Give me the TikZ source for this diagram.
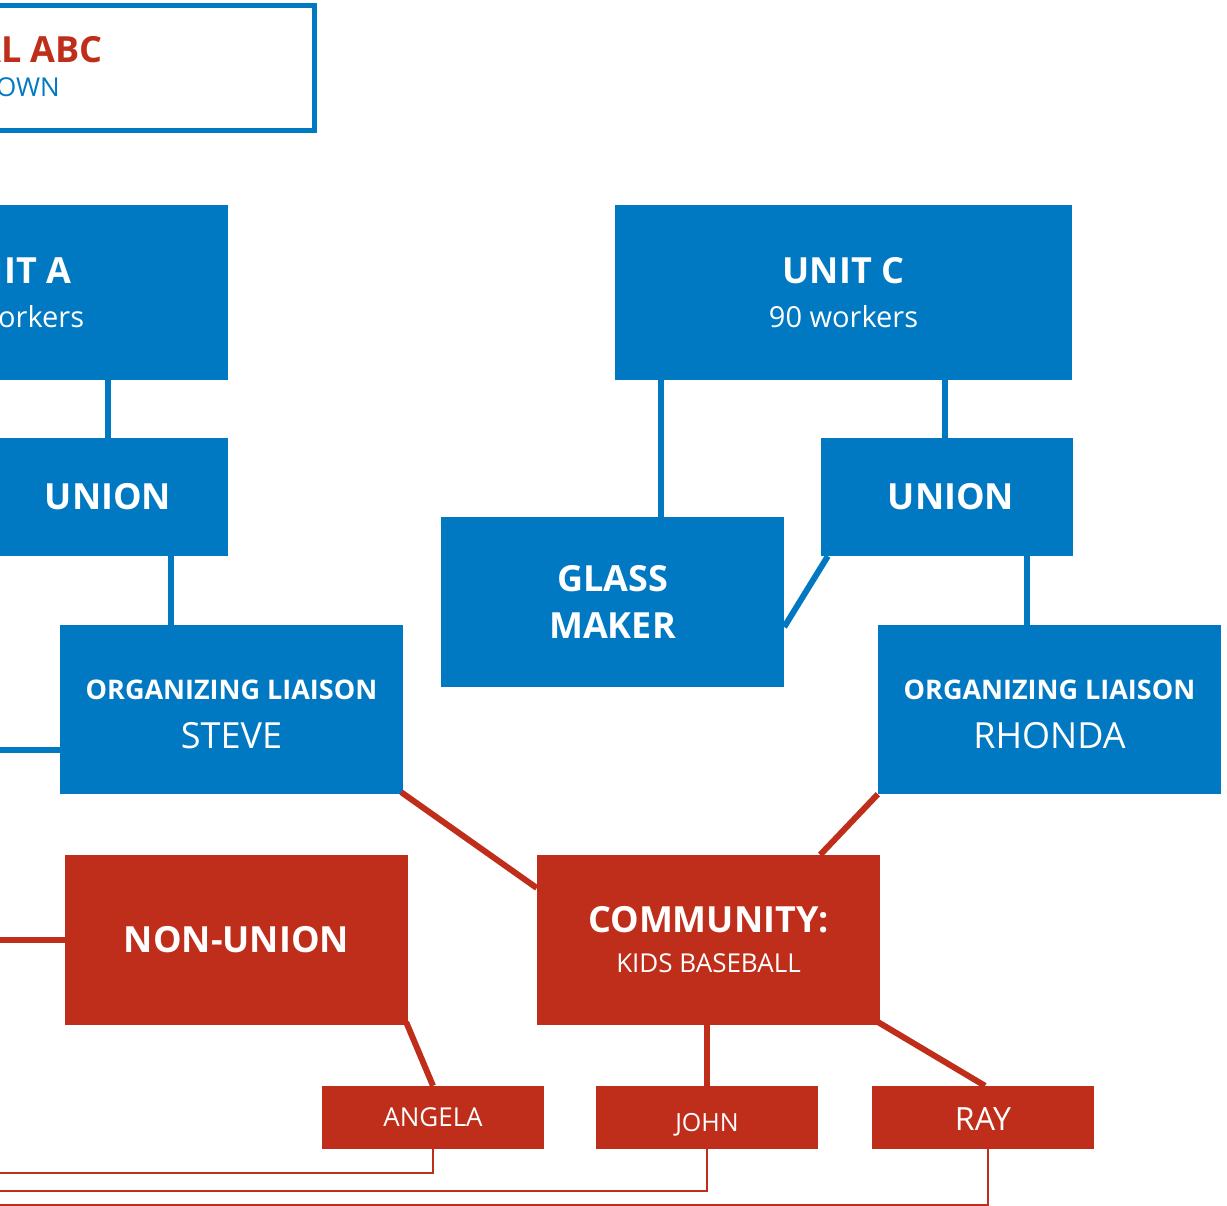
\documentclass[tikz,border=0pt]{standalone}
\usepackage{fontspec}
\setmainfont{Open Sans}
\usepackage{tikz}
\usetikzlibrary{positioning,calc}
\definecolor{UnionBlue}{HTML}{0079C2}
\definecolor{CommunityRed}{HTML}{BF2E1A}

\begin{document}
\begin{tikzpicture}[x=1pt,y=-1pt,
  bluebox/.style={fill=UnionBlue,text=white,inner sep=0pt,align=center,minimum width=343pt,minimum height=170pt},
  redbox/.style={fill=CommunityRed,text=white,inner sep=0pt,align=center,minimum width=343pt,minimum height=170pt},
  namebox/.style={redbox,minimum width=222pt,minimum height=63pt,text depth=0pt},
  bluelink/.style={UnionBlue,line width=6pt},
  redlink/.style={CommunityRed,line width=6pt},
  thinlink/.style={CommunityRed,line width=2.5pt}]
  \useasboundingbox (0,0) rectangle (1227,1206);
  % local header
  \node[draw=UnionBlue,line width=5pt,fill=white,minimum width=629pt,minimum height=125pt] (local) at (0,68) {};
  \node[anchor=base east,inner sep=0pt,text=CommunityRed,font=\fontsize{36}{44}\selectfont\bfseries] (localname) at (103,63) {LOCAL ABC};
  \node[anchor=base east,inner sep=0pt,text=UnionBlue,font=\fontsize{26}{30}\selectfont] (localtown) at (60,97) {HOMETOWN};
  % units and unions
  \node[bluebox,minimum width=437pt,minimum height=175pt,font=\fontsize{36}{44}\selectfont] (unitA) at (9.5,292.5) {\bfseries UNIT A\\\fontsize{29}{44}\selectfont\mdseries 80 workers};
  \node[bluebox,minimum width=457pt,minimum height=175pt,font=\fontsize{36}{44}\selectfont] (unitC) at (843.5,292.5) {\bfseries UNIT C\\\fontsize{29}{44}\selectfont\mdseries 90 workers};
  \node[bluebox,minimum width=240pt,minimum height=118pt,font=\fontsize{36}{44}\selectfont\bfseries] (unionA) at (108,497) {UNION};
  \node[bluebox,minimum width=252pt,minimum height=118pt,font=\fontsize{36}{44}\selectfont\bfseries] (unionC) at (947,497) {\hspace*{8pt}UNION};
  \node[bluebox,font=\fontsize{36}{47}\selectfont\bfseries] (glass) at (612.5,602) {GLASS\\MAKER};
  \node[bluebox,minimum height=169pt,font=\fontsize{27}{49}\selectfont] (steve) at (231.5,709.5) {\rule{0pt}{29pt}\bfseries ORGANIZING LIAISON\\\fontsize{36}{49}\selectfont\mdseries STEVE};
  \node[bluebox,minimum height=169pt,font=\fontsize{27}{49}\selectfont] (rhonda) at (1049.5,709.5) {\rule{0pt}{29pt}\bfseries ORGANIZING LIAISON\\\fontsize{36}{49}\selectfont\mdseries RHONDA};
  % community side
  \node[redbox,font=\fontsize{36}{44}\selectfont\bfseries] (nonunion) at (236.5,940) {NON-UNION};
  \node[redbox,font=\fontsize{36}{40}\selectfont] (community) at (708.5,940) {\bfseries COMMUNITY:\\\fontsize{26}{40}\selectfont\mdseries KIDS BASEBALL};
  \node[namebox,text height=17pt,font=\fontsize{26}{30}\selectfont] (angela) at (433,1117.5) {ANGELA};
  \node[namebox,text height=27pt,font=\fontsize{25}{30}\selectfont] (john) at (707,1117.5) {JOHN};
  \node[namebox,text height=25pt,font=\fontsize{32}{36}\selectfont] (ray) at (983,1117.5) {RAY};
  % off-picture ends
  \coordinate (offA) at (-20,750);
  \coordinate (offN) at (-20,940);
  \coordinate (offAngela) at (-20,1173);
  \coordinate (offJohn) at (-20,1191);
  \coordinate (offRay) at (-20,1205);
  % blue links
  \draw[bluelink] (unionA.north) -- (unionA.north |- unitA.south);
  \draw[bluelink] ([xshift=-60.5pt]steve.north) -- ([xshift=-60.5pt]steve.north |- unionA.south);
  \draw[bluelink] (steve.west |- offA) -- (offA);
  \draw[bluelink] ([xshift=48.5pt]glass.north) -- ([xshift=48.5pt]glass.north |- unitC.south);
  \draw[bluelink] ([xshift=-2pt]unionC.north) -- ([xshift=-2pt]unionC.north |- unitC.south);
  \draw[bluelink] ([xshift=7pt]unionC.south west) -- ([yshift=-25pt]glass.east);
  \draw[bluelink] ([xshift=-22.5pt]rhonda.north) -- ([xshift=-22.5pt]rhonda.north |- unionC.south);
  % red links
  \draw[redlink] ([shift={(-2pt,2pt)}]steve.south east) -- ([yshift=52pt]community.west);
  \draw[redlink] (rhonda.south west) -- ([xshift=-60pt]community.north east);
  \draw[redlink] (nonunion.west) -- (offN);
  \draw[redlink] ([shift={(-2pt,3pt)}]nonunion.south east) -- (angela.north);
  \draw[redlink] (john.north) -- (john.north |- community.south);
  \draw[redlink] ([shift={(-2pt,3pt)}]community.south east) -- ([xshift=2pt]ray.north);
  \draw[thinlink] (angela.south) |- (offAngela);
  \draw[thinlink] (john.south) |- (offJohn);
  \draw[thinlink] ([xshift=5pt]ray.south) |- (offRay);
\end{tikzpicture}
\end{document}
